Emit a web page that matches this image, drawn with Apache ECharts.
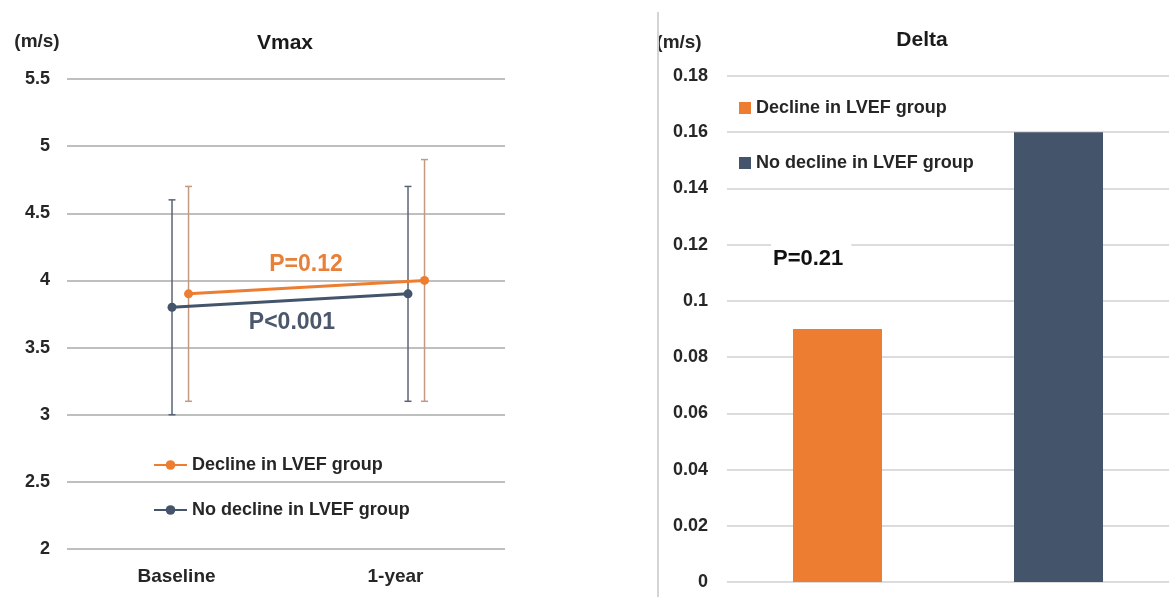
<!DOCTYPE html>
<html>
<head>
<meta charset="utf-8">
<title>Vmax and Delta</title>
<script src="https://cdn.jsdelivr.net/npm/echarts@6/dist/echarts.min.js"></script>
<style>
  html, body { margin: 0; padding: 0; background: #fff; }
  #chart { width: 1175px; height: 597px; }
</style>
</head>
<body>
<div id="chart"></div>
<script>
// Time points and groups
const timepoints = ['Baseline', '1-year'];
const groups = ['Decline in LVEF group', 'No decline in LVEF group'];

// Vmax (m/s): mean with lower / upper error bar ends
const declineMean = [3.9, 4.0];
const declineLow = [3.1, 3.1];
const declineHigh = [4.7, 4.9];
const noDeclineMean = [3.8, 3.9];
const noDeclineLow = [3.0, 3.1];
const noDeclineHigh = [4.6, 4.7];

// Delta (m/s) per group
const deltaValues = [0.09, 0.16];

// P-value annotations
const pDecline = 'P=0.12';
const pNoDecline = 'P<0.001';
const pDelta = 'P=0.21';

// Styling
const ORANGE = '#ED7D31';
const SLATE = '#44546A';
const ORANGE_ERR = '#c39a7f';
const SLATE_ERR = '#5a6476';
const FONT = '"Liberation Sans", Arial, sans-serif';
const TEXT = '#262626';
// horizontal dodge of the decline group so the error bars do not overlap
const DODGE = 0.07;

const chart = echarts.init(document.getElementById('chart'));

function points(means, shift) {
  return means.map((v, i) => [i + shift, v]);
}
function ranges(lows, highs, shift) {
  return lows.map((lo, i) => [i + shift, lo, highs[i]]);
}
function errorBar(color) {
  return function (params, api) {
    const x = api.value(0);
    const top = api.coord([x, api.value(2)]);
    const bot = api.coord([x, api.value(1)]);
    const cap = 3.5;
    const style = { stroke: color, lineWidth: 1.5 };
    return {
      type: 'group',
      children: [
        { type: 'line', shape: { x1: top[0], y1: top[1], x2: bot[0], y2: bot[1] }, style },
        { type: 'line', shape: { x1: top[0] - cap, y1: top[1], x2: top[0] + cap, y2: top[1] }, style },
        { type: 'line', shape: { x1: bot[0] - cap, y1: bot[1], x2: bot[0] + cap, y2: bot[1] }, style }
      ]
    };
  };
}

const boldText = (size, color) => ({
  fontFamily: FONT, fontWeight: 'bold', fontSize: size, color: color
});

const option = {
  animation: false,
  backgroundColor: '#fff',
  grid: [
    { left: 67, right: 670, top: 79, bottom: 48 },
    { left: 727, right: 6, top: 76, bottom: 15 }
  ],
  xAxis: [
    { type: 'value', gridIndex: 0, position: 'top', min: -0.445, max: 1.411, show: false },
    {
      type: 'category', gridIndex: 0, position: 'bottom', data: timepoints,
      axisLine: { show: false }, axisTick: { show: false },
      axisLabel: Object.assign({ margin: 18 }, boldText(19, TEXT))
    },
    { type: 'category', gridIndex: 1, data: groups, show: false }
  ],
  yAxis: [
    {
      type: 'value', gridIndex: 0, min: 2, max: 5.5, interval: 0.5,
      axisLine: { show: false }, axisTick: { show: false },
      axisLabel: Object.assign({ margin: 17 }, boldText(18, TEXT)),
      splitLine: { lineStyle: { color: '#bfbfbf', width: 2 } }
    },
    {
      type: 'value', gridIndex: 1, min: 0, max: 0.18, interval: 0.02,
      axisLine: { show: false }, axisTick: { show: false },
      axisLabel: Object.assign({ margin: 19 }, boldText(18, TEXT)),
      splitLine: { lineStyle: { color: '#dcdcdc', width: 2 } }
    }
  ],
  legend: [
    {
      data: groups, orient: 'vertical', left: 153, top: 455, padding: 0,
      itemWidth: 33, itemHeight: 12, itemGap: 25,
      textStyle: Object.assign({ lineHeight: 20 }, boldText(18, TEXT)),
      selectedMode: false
    },
    {
      data: groups, orient: 'vertical', left: 739, top: 98, padding: 0, icon: 'rect',
      itemWidth: 12, itemHeight: 12, itemGap: 35,
      textStyle: Object.assign({ lineHeight: 20 }, boldText(18, TEXT)),
      selectedMode: false
    }
  ],
  series: [
    {
      name: groups[0], type: 'line', xAxisIndex: 0, yAxisIndex: 0, z: 4,
      data: points(declineMean, DODGE),
      symbol: 'circle', symbolSize: 9,
      lineStyle: { color: ORANGE, width: 3 }, itemStyle: { color: ORANGE }
    },
    {
      name: groups[1], type: 'line', xAxisIndex: 0, yAxisIndex: 0, z: 3,
      data: points(noDeclineMean, 0),
      symbol: 'circle', symbolSize: 9,
      lineStyle: { color: SLATE, width: 3 }, itemStyle: { color: SLATE }
    },
    {
      name: 'decline-range', type: 'custom', xAxisIndex: 0, yAxisIndex: 0, z: 2,
      data: ranges(declineLow, declineHigh, DODGE),
      encode: { x: 0, y: [1, 2] }, renderItem: errorBar(ORANGE_ERR)
    },
    {
      name: 'no-decline-range', type: 'custom', xAxisIndex: 0, yAxisIndex: 0, z: 2,
      data: ranges(noDeclineLow, noDeclineHigh, 0),
      encode: { x: 0, y: [1, 2] }, renderItem: errorBar(SLATE_ERR)
    },
    {
      name: groups[0], type: 'bar', xAxisIndex: 2, yAxisIndex: 1,
      data: [deltaValues[0], null], barWidth: 89, barGap: '-100%',
      itemStyle: { color: ORANGE }
    },
    {
      name: groups[1], type: 'bar', xAxisIndex: 2, yAxisIndex: 1,
      data: [null, deltaValues[1]], barWidth: 89, barGap: '-100%',
      itemStyle: { color: SLATE }
    }
  ],
  graphic: [
    // divider between the two panels
    { type: 'line', shape: { x1: 658, y1: 12, x2: 658, y2: 597 },
      style: { stroke: '#d4d4d4', lineWidth: 2 }, z: 10 },
    { type: 'text', x: 37, y: 42, style: { text: '(m/s)', font: 'bold 19px ' + FONT, fill: TEXT, align: 'center', verticalAlign: 'middle' } },
    { type: 'text', x: 285, y: 43, style: { text: 'Vmax', font: 'bold 21px ' + FONT, fill: '#1a1a1a', align: 'center', verticalAlign: 'middle' } },
    { type: 'text', x: 679, y: 43, style: { text: '(m/s)', font: 'bold 19px ' + FONT, fill: TEXT, align: 'center', verticalAlign: 'middle' } },
    { type: 'text', x: 922, y: 40, style: { text: 'Delta', font: 'bold 21px ' + FONT, fill: '#1a1a1a', align: 'center', verticalAlign: 'middle' } },
    { type: 'text', x: 306, y: 265, z: 20, style: { text: pDecline, font: 'bold 23px ' + FONT, fill: '#E9803A', align: 'center', verticalAlign: 'middle' } },
    { type: 'text', x: 292, y: 323, z: 20, style: { text: pNoDecline, font: 'bold 23px ' + FONT, fill: '#4b586c', align: 'center', verticalAlign: 'middle' } },
    { type: 'text', x: 771, y: 236, z: 20, style: {
        text: pDelta, font: 'bold 22px ' + FONT, fill: '#111',
        backgroundColor: '#fff', padding: [12, 8, 8, 2]
    } }
  ]
};

chart.setOption(option);
</script>
</body>
</html>
